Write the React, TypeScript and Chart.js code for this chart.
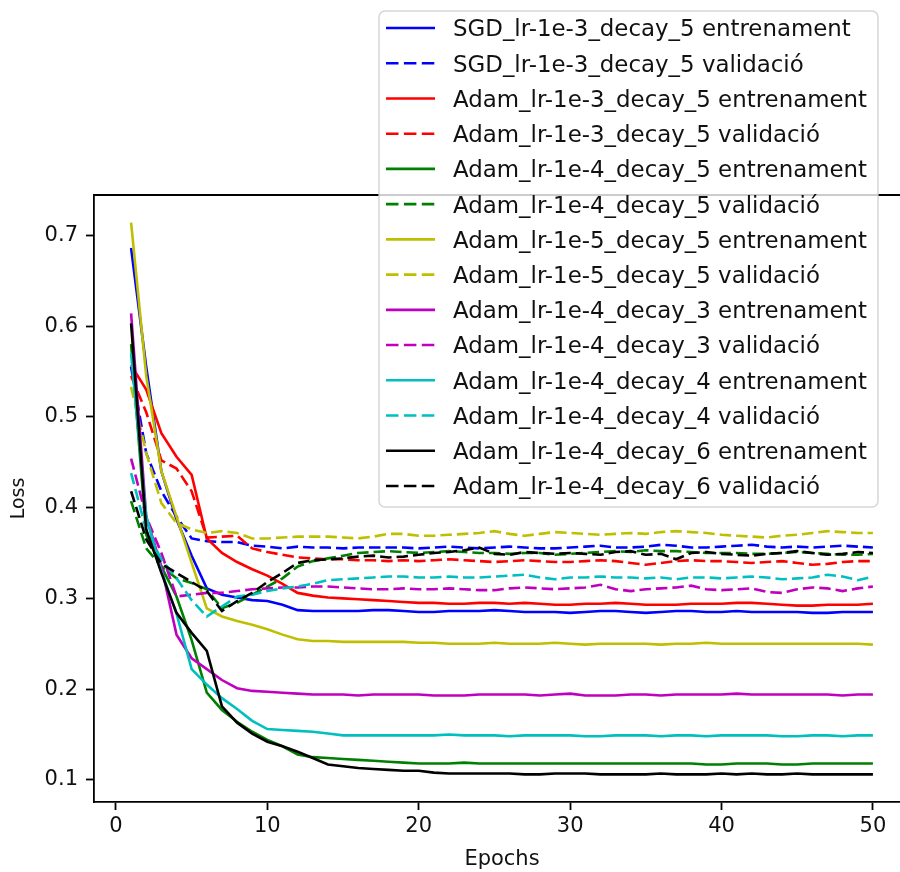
import { useEffect, useRef } from 'react';
import { Chart, registerables } from 'chart.js';

Chart.register(...registerables);

const epochs = [
  1, 2, 3, 4, 5, 6, 7, 8, 9, 10,
  11, 12, 13, 14, 15, 16, 17, 18, 19, 20,
  21, 22, 23, 24, 25, 26, 27, 28, 29, 30,
  31, 32, 33, 34, 35, 36, 37, 38, 39, 40,
  41, 42, 43, 44, 45, 46, 47, 48, 49, 50,
];

const xTicks = [0, 10, 20, 30, 40, 50];
const yTicks = [0.1, 0.2, 0.3, 0.4, 0.5, 0.6, 0.7];

const sgdTrain = [
  0.686, 0.555, 0.440, 0.387, 0.347, 0.311, 0.304, 0.301, 0.298, 0.297,
  0.293, 0.287, 0.286, 0.286, 0.286, 0.286, 0.287, 0.287, 0.286, 0.285,
  0.285, 0.286, 0.286, 0.286, 0.287, 0.286, 0.285, 0.285, 0.285, 0.284,
  0.285, 0.286, 0.286, 0.285, 0.284, 0.285, 0.286, 0.286, 0.285, 0.285,
  0.286, 0.285, 0.285, 0.285, 0.285, 0.284, 0.284, 0.285, 0.285, 0.285,
];
const sgdVal = [
  0.555, 0.460, 0.418, 0.390, 0.366, 0.363, 0.362, 0.362, 0.358, 0.357,
  0.355, 0.357, 0.356, 0.356, 0.355, 0.356, 0.356, 0.356, 0.356, 0.355,
  0.356, 0.357, 0.356, 0.355, 0.356, 0.357, 0.356, 0.355, 0.355, 0.356,
  0.357, 0.358, 0.356, 0.356, 0.357, 0.359, 0.358, 0.356, 0.356, 0.357,
  0.358, 0.359, 0.357, 0.356, 0.357, 0.356, 0.357, 0.358, 0.357, 0.356,
];
const adam3Train = [
  0.557, 0.530, 0.482, 0.456, 0.436, 0.366, 0.350, 0.340, 0.332, 0.325,
  0.316, 0.306, 0.303, 0.301, 0.300, 0.299, 0.298, 0.297, 0.296, 0.295,
  0.295, 0.294, 0.294, 0.295, 0.295, 0.294, 0.295, 0.294, 0.293, 0.293,
  0.294, 0.294, 0.295, 0.294, 0.293, 0.293, 0.293, 0.294, 0.294, 0.294,
  0.295, 0.295, 0.294, 0.293, 0.292, 0.292, 0.293, 0.293, 0.293, 0.294,
];
const adam3Val = [
  0.545, 0.505, 0.452, 0.443, 0.418, 0.367, 0.368, 0.369, 0.355, 0.351,
  0.348, 0.345, 0.344, 0.343, 0.343, 0.342, 0.342, 0.341, 0.342, 0.341,
  0.342, 0.343, 0.342, 0.341, 0.340, 0.341, 0.342, 0.341, 0.340, 0.340,
  0.341, 0.342, 0.341, 0.339, 0.337, 0.339, 0.341, 0.342, 0.341, 0.341,
  0.340, 0.339, 0.340, 0.341, 0.339, 0.337, 0.338, 0.340, 0.341, 0.341,
];
const adam4d5Train = [
  0.580, 0.370, 0.335, 0.302, 0.254, 0.196, 0.177, 0.164, 0.153, 0.144,
  0.137, 0.128, 0.125, 0.124, 0.123, 0.122, 0.121, 0.120, 0.119, 0.118,
  0.118, 0.118, 0.119, 0.118, 0.118, 0.118, 0.118, 0.118, 0.118, 0.118,
  0.118, 0.118, 0.118, 0.118, 0.118, 0.118, 0.118, 0.118, 0.117, 0.117,
  0.118, 0.118, 0.118, 0.117, 0.117, 0.118, 0.118, 0.118, 0.118, 0.118,
];
const adam4d5Val = [
  0.407, 0.355, 0.335, 0.322, 0.317, 0.310, 0.289, 0.295, 0.304, 0.313,
  0.322, 0.335, 0.341, 0.344, 0.347, 0.350, 0.351, 0.352, 0.351, 0.350,
  0.351, 0.352, 0.351, 0.350, 0.350, 0.349, 0.350, 0.350, 0.348, 0.349,
  0.350, 0.351, 0.352, 0.351, 0.353, 0.352, 0.352, 0.351, 0.350, 0.350,
  0.350, 0.349, 0.349, 0.350, 0.351, 0.350, 0.349, 0.348, 0.348, 0.349,
];
const adam5Train = [
  0.714, 0.545, 0.440, 0.390, 0.339, 0.289, 0.280, 0.275, 0.271, 0.266,
  0.260, 0.255, 0.253, 0.253, 0.252, 0.252, 0.252, 0.252, 0.252, 0.251,
  0.251, 0.250, 0.250, 0.250, 0.251, 0.250, 0.250, 0.250, 0.251, 0.250,
  0.249, 0.250, 0.250, 0.250, 0.250, 0.249, 0.250, 0.250, 0.251, 0.250,
  0.250, 0.250, 0.250, 0.250, 0.250, 0.250, 0.250, 0.250, 0.250, 0.249,
];
const adam5Val = [
  0.533, 0.460, 0.405, 0.383, 0.376, 0.372, 0.374, 0.372, 0.366, 0.366,
  0.367, 0.368, 0.368, 0.368, 0.367, 0.366, 0.368, 0.371, 0.371, 0.369,
  0.369, 0.370, 0.371, 0.372, 0.374, 0.371, 0.369, 0.371, 0.373, 0.372,
  0.371, 0.370, 0.371, 0.372, 0.371, 0.373, 0.374, 0.373, 0.372, 0.370,
  0.369, 0.368, 0.367, 0.369, 0.370, 0.372, 0.374, 0.373, 0.372, 0.372,
];
const adam4d3Train = [
  0.614, 0.390, 0.335, 0.260, 0.234, 0.222, 0.210, 0.201, 0.198, 0.197,
  0.196, 0.195, 0.194, 0.194, 0.194, 0.193, 0.194, 0.194, 0.194, 0.194,
  0.193, 0.193, 0.193, 0.194, 0.194, 0.194, 0.194, 0.193, 0.194, 0.195,
  0.193, 0.193, 0.193, 0.194, 0.194, 0.193, 0.194, 0.194, 0.194, 0.194,
  0.195, 0.194, 0.194, 0.194, 0.194, 0.194, 0.194, 0.193, 0.194, 0.194,
];
const adam4d3Val = [
  0.454, 0.390, 0.350, 0.302, 0.304, 0.306, 0.306, 0.308, 0.310, 0.311,
  0.312, 0.312, 0.313, 0.313, 0.312, 0.311, 0.310, 0.310, 0.311, 0.310,
  0.310, 0.311, 0.310, 0.309, 0.309, 0.311, 0.312, 0.311, 0.310, 0.311,
  0.312, 0.315, 0.310, 0.308, 0.310, 0.311, 0.312, 0.314, 0.310, 0.309,
  0.310, 0.311, 0.307, 0.306, 0.310, 0.312, 0.311, 0.308, 0.311, 0.313,
];
const adam4d4Train = [
  0.570, 0.390, 0.330, 0.283, 0.222, 0.205, 0.190, 0.178, 0.165, 0.156,
  0.155, 0.154, 0.153, 0.151, 0.149, 0.149, 0.149, 0.149, 0.149, 0.149,
  0.149, 0.150, 0.149, 0.149, 0.149, 0.148, 0.149, 0.149, 0.149, 0.149,
  0.148, 0.148, 0.149, 0.149, 0.149, 0.148, 0.149, 0.149, 0.148, 0.149,
  0.149, 0.149, 0.149, 0.148, 0.148, 0.149, 0.149, 0.148, 0.149, 0.149,
];
const adam4d4Val = [
  0.438, 0.375, 0.343, 0.322, 0.298, 0.280, 0.291, 0.302, 0.304, 0.308,
  0.311, 0.313, 0.316, 0.320, 0.321, 0.322, 0.323, 0.324, 0.324, 0.323,
  0.323, 0.324, 0.323, 0.323, 0.324, 0.325, 0.326, 0.323, 0.321, 0.323,
  0.323, 0.324, 0.323, 0.323, 0.322, 0.323, 0.321, 0.323, 0.323, 0.322,
  0.323, 0.324, 0.323, 0.321, 0.322, 0.323, 0.326, 0.324, 0.320, 0.324,
];
const adam4d6Train = [
  0.603, 0.376, 0.328, 0.284, 0.262, 0.242, 0.181, 0.163, 0.151, 0.142,
  0.137, 0.131, 0.124, 0.117, 0.115, 0.113, 0.112, 0.111, 0.110, 0.110,
  0.108, 0.107, 0.107, 0.107, 0.107, 0.107, 0.106, 0.106, 0.107, 0.107,
  0.107, 0.106, 0.106, 0.106, 0.106, 0.107, 0.106, 0.106, 0.106, 0.107,
  0.106, 0.107, 0.106, 0.106, 0.107, 0.106, 0.106, 0.106, 0.106, 0.106,
];
const adam4d6Val = [
  0.418, 0.365, 0.338, 0.328, 0.318, 0.308, 0.286, 0.297, 0.306, 0.318,
  0.328, 0.339, 0.342, 0.343, 0.344, 0.346, 0.347, 0.345, 0.346, 0.348,
  0.350, 0.351, 0.353, 0.356, 0.349, 0.348, 0.351, 0.350, 0.349, 0.350,
  0.349, 0.348, 0.351, 0.352, 0.348, 0.349, 0.343, 0.350, 0.351, 0.349,
  0.348, 0.347, 0.349, 0.350, 0.352, 0.350, 0.348, 0.349, 0.351, 0.350,
];

const seriesLabels = [
  'SGD_lr-1e-3_decay_5 entrenament',
  'SGD_lr-1e-3_decay_5 validació',
  'Adam_lr-1e-3_decay_5 entrenament',
  'Adam_lr-1e-3_decay_5 validació',
  'Adam_lr-1e-4_decay_5 entrenament',
  'Adam_lr-1e-4_decay_5 validació',
  'Adam_lr-1e-5_decay_5 entrenament',
  'Adam_lr-1e-5_decay_5 validació',
  'Adam_lr-1e-4_decay_3 entrenament',
  'Adam_lr-1e-4_decay_3 validació',
  'Adam_lr-1e-4_decay_4 entrenament',
  'Adam_lr-1e-4_decay_4 validació',
  'Adam_lr-1e-4_decay_6 entrenament',
  'Adam_lr-1e-4_decay_6 validació',
];
const seriesValues = [
  sgdTrain, sgdVal, adam3Train, adam3Val, adam4d5Train, adam4d5Val,
  adam5Train, adam5Val, adam4d3Train, adam4d3Val, adam4d4Train, adam4d4Val,
  adam4d6Train, adam4d6Val,
];
const seriesColors = [
  '#0000ff', '#0000ff', '#ff0000', '#ff0000', '#008000', '#008000',
  '#bfbf00', '#bfbf00', '#bf00bf', '#bf00bf', '#00bfbf', '#00bfbf',
  '#000000', '#000000',
];
const seriesDashed = [
  false, true, false, true, false, true, false, true,
  false, true, false, true, false, true,
];

const FONT = "'DejaVu Sans', sans-serif";
const LINE_W = 2.6;
const DASH = [11.5, 5];

const mplPlugin = {
  id: 'mplFrameLegend',
  afterDraw(chart: any) {
    const ctx = chart.ctx as CanvasRenderingContext2D;
    const a = chart.chartArea;
    ctx.save();
    // top & right spines
    ctx.strokeStyle = '#000';
    ctx.lineWidth = 1.8;
    ctx.setLineDash([]);
    ctx.beginPath();
    ctx.moveTo(a.left, a.top);
    ctx.lineTo(a.right, a.top);
    ctx.lineTo(a.right, a.bottom);
    ctx.stroke();

    // legend frame
    const bx = 379, by = 11, bw = 499, bh = 496;
    ctx.beginPath();
    (ctx as any).roundRect(bx, by, bw, bh, 6);
    ctx.fillStyle = 'rgba(255,255,255,0.8)';
    ctx.fill();
    ctx.strokeStyle = 'rgba(204,204,204,0.8)';
    ctx.lineWidth = 1.5;
    ctx.stroke();

    const fs = 22.9;
    const rowH = 35.23;
    ctx.font = `${fs}px ${FONT}`;
    ctx.textAlign = 'left';
    ctx.textBaseline = 'alphabetic';
    chart.data.datasets.forEach((ds: any, i: number) => {
      const cy = 28 + i * rowH;
      ctx.beginPath();
      ctx.strokeStyle = ds.borderColor;
      ctx.lineWidth = LINE_W;
      ctx.lineCap = 'butt';
      ctx.setLineDash(ds.borderDash && ds.borderDash.length ? [12.5, 5.4] : []);
      ctx.moveTo(386, cy);
      ctx.lineTo(435, cy);
      ctx.stroke();
      ctx.setLineDash([]);
      ctx.fillStyle = '#111';
      ctx.fillText(ds.label, 453, cy + fs * 0.365);
    });
    ctx.restore();
  },
};

export default function App() {
  const ref = useRef<HTMLCanvasElement>(null);

  useEffect(() => {
    if (!ref.current) return;
    const n = seriesLabels.length;
    const datasets = seriesLabels.map((label, i) => ({
      label,
      data: epochs.map((e, j) => ({ x: e, y: seriesValues[i][j] })),
      borderColor: seriesColors[i],
      backgroundColor: seriesColors[i],
      borderWidth: LINE_W,
      borderDash: seriesDashed[i] ? DASH : [],
      pointRadius: 0,
      tension: 0,
      fill: false,
      order: n - i,
    }));

    const tickFont = { family: FONT, size: 21 };
    const chart = new Chart(ref.current, {
      type: 'line',
      data: { datasets },
      plugins: [mplPlugin],
      options: {
        animation: false,
        responsive: false,
        events: [],
        layout: { padding: { top: 195, right: 10, left: 0, bottom: 0 } },
        plugins: { legend: { display: false }, tooltip: { enabled: false } },
        scales: {
          x: {
            type: 'linear',
            min: -1.45,
            max: 52.45,
            afterBuildTicks: (s: any) => {
              s.ticks = xTicks.map((v) => ({ value: v }));
            },
            afterFit: (s: any) => {
              s.height = 70;
            },
            ticks: {
              font: tickFont,
              color: '#111',
              padding: 4,
              maxRotation: 0,
              autoSkip: false,
              callback: (v: any) => String(v),
            },
            grid: {
              display: true,
              drawOnChartArea: false,
              drawTicks: true,
              tickLength: 8,
              tickWidth: 1.8,
              tickColor: '#000',
            },
            border: { display: true, color: '#000', width: 1.8 },
            title: {
              display: true,
              text: 'Epochs',
              color: '#111',
              font: { family: FONT, size: 21 },
              padding: { top: 0, bottom: 0 },
            },
          },
          y: {
            type: 'linear',
            min: 0.0756,
            max: 0.7444,
            afterBuildTicks: (s: any) => {
              s.ticks = yTicks.map((v) => ({ value: v }));
            },
            afterFit: (s: any) => {
              s.width = 94;
            },
            ticks: {
              font: tickFont,
              color: '#111',
              padding: 8,
              autoSkip: false,
              callback: (v: any) => Number(v).toFixed(1),
            },
            grid: {
              display: true,
              drawOnChartArea: false,
              drawTicks: true,
              tickLength: 8,
              tickWidth: 1.8,
              tickColor: '#000',
            },
            border: { display: true, color: '#000', width: 1.8 },
            title: {
              display: true,
              text: 'Loss',
              color: '#111',
              font: { family: FONT, size: 19 },
              padding: { top: 8, bottom: 0 },
            },
          },
        },
      } as any,
    });
    return () => chart.destroy();
  }, []);

  return (
    <div
      style={{
        position: 'absolute',
        left: 0,
        top: 0,
        width: 900,
        height: 872,
        overflow: 'hidden',
        background: '#fff',
      }}
    >
      <canvas ref={ref} width={920} height={872} style={{ display: 'block' }} />
    </div>
  );
}
